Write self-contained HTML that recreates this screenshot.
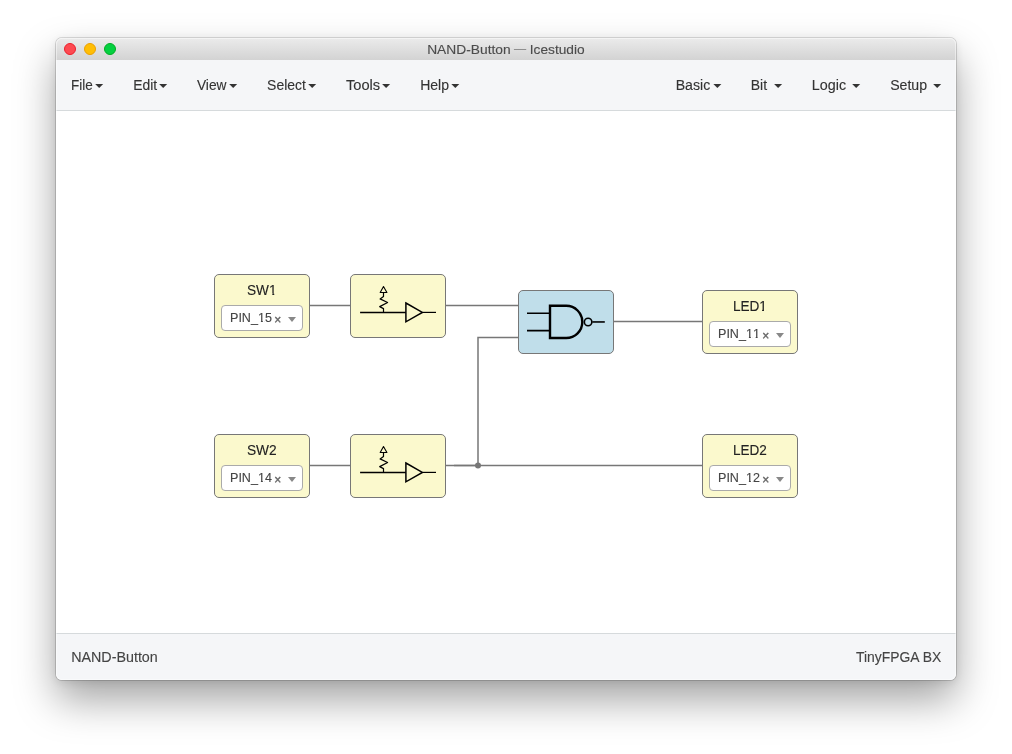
<!DOCTYPE html>
<html lang="en">
<head>
<meta charset="utf-8">
<title>NAND-Button — Icestudio</title>
<style>
*{box-sizing:border-box;margin:0;padding:0}
html,body{width:1012px;height:754px;overflow:hidden;background:#fff}
body{font-family:"Liberation Sans",Arial,Helvetica,sans-serif;color:#333;position:relative}
.window{position:absolute;left:56px;top:38px;width:900px;height:642px;border-radius:6px;background:#fff;
  box-shadow:0 0 0 1px rgba(0,0,0,.15),0 2px 9px rgba(0,0,0,.09),0 20px 40px rgba(0,0,0,.36)}
.topline{position:absolute;left:5px;top:-1px;width:890px;height:1px;background:rgba(255,255,255,.12)}
.hl{position:absolute;left:0;top:0;width:900px;height:642px;border-radius:6px;box-shadow:inset 0 0 0 1px rgba(255,255,255,.45);pointer-events:none;z-index:5}
.t{position:absolute;display:block;white-space:nowrap;will-change:transform}
.s{display:inline-block;transform-origin:0 50%;-webkit-text-stroke:.12px currentColor}
.titlebar{position:absolute;left:0;top:0;width:900px;height:22px;border-radius:6px 6px 0 0;
  background:linear-gradient(#ececec 0,#ececec 1px,#eaeaea 1px,#d3d3d3 22px)}
.titlebar .t{top:1px;height:22px;line-height:22px;font-size:13px;color:#4b4b4b}
.lights{position:absolute;left:0;top:0}
.menubar{position:absolute;left:0;top:22px;width:900px;height:51px;background:#f5f6f8;border-bottom:1px solid #d6dadc}
.menubar .t{top:0;height:50px;line-height:50px;font-size:14px;color:#333}
.caret{position:absolute;top:24px;width:0;height:0;border-top:4px solid #333;border-left:4px solid transparent;border-right:4px solid transparent}
.canvas{position:absolute;left:0;top:73px;width:900px;height:522px;background:#fff;overflow:hidden}
.footer{position:absolute;left:0;top:595px;width:900px;height:47px;background:#f5f6f8;border-top:1px solid #d6dadc;border-radius:0 0 6px 6px}
.footer .t{top:0;height:46px;line-height:46px;font-size:14px;color:#444}
.block{position:absolute;width:96px;height:64px;border:1px solid #777;border-radius:5px;background:#fbf9cd}
.block.gen{background:#c0deea}
.block .lab{top:6px;font-size:14px;line-height:18px;color:#222;font-kerning:none}
.sel{position:absolute;left:6px;top:30px;width:82px;height:26px;border:1px solid #aaa;border-radius:4px;background:#fff}
.sel .v{top:0;height:24px;line-height:24px;font-size:13px;color:#444;font-kerning:none}
.ft{position:absolute;height:2.2px;background:#fff}
.lab .ft{bottom:3.52px;background:#fbf9cd}
.v .ft{bottom:6.84px}
.sel .x{left:52px;top:1px;height:24px;line-height:24px;font-size:12px;color:#666}
.sel .x .s{-webkit-text-stroke:.4px currentColor}
.sel .a{position:absolute;left:66px;top:11px;width:0;height:0;border-top:5px solid #888;border-left:4px solid transparent;border-right:4px solid transparent}
svg{position:absolute;left:0;top:0;overflow:visible}
.block .icon{left:-1px;top:-1px}
</style>
</head>
<body>
<div class="window">
  <i class="topline"></i>
  <header class="titlebar">
    <svg class="lights" width="70" height="22" viewBox="0 0 70 22">
      <circle cx="14" cy="11" r="5.5" fill="#fd4a51" stroke="#ec1f2b" stroke-width="1"/>
      <circle cx="34" cy="11" r="5.5" fill="#ffbe04" stroke="#eca000" stroke-width="1"/>
      <circle cx="54" cy="11" r="5.5" fill="#04d040" stroke="#00ac22" stroke-width="1"/>
    </svg>
    <span class="t" style="left:371px;"><span class="s" style="transform:translate(0.16px,0px) scaleX(1.06)">NAND-Button</span></span>
    <span class="t" style="left:458px;top:0;color:#858585"><span class="s" style="transform:translate(0.0px,0px) scaleX(0.93)">—</span></span>
    <span class="t" style="left:473px;"><span class="s" style="transform:translate(0.78px,0px) scaleX(1.0549)">Icestudio</span></span>
  </header>
  <nav class="menubar">
    <span class="t" style="left:14px;"><span class="s" style="transform:translate(0.99px,0px) scaleX(0.964)">File</span></span><i class="caret" style="left:39px;transform:translateX(0.2px)"></i>
    <span class="t" style="left:77px;"><span class="s" style="transform:translate(0.13px,0px) scaleX(0.9927)">Edit</span></span><i class="caret" style="left:103px;transform:translateX(0.2px)"></i>
    <span class="t" style="left:140px;"><span class="s" style="transform:translate(0.94px,0px) scaleX(0.9827)">View</span></span><i class="caret" style="left:173px;transform:translateX(0.2px)"></i>
    <span class="t" style="left:211px;"><span class="s" style="transform:translate(0.1px,0px) scaleX(0.9949)">Select</span></span><i class="caret" style="left:252px;transform:translateX(0.2px)"></i>
    <span class="t" style="left:289px;"><span class="s" style="transform:translate(0.94px,0px) scaleX(1.045)">Tools</span></span><i class="caret" style="left:326px;transform:translateX(0.1px)"></i>
    <span class="t" style="left:364px;"><span class="s" style="transform:translate(0.17px,0px) scaleX(1.0029)">Help</span></span><i class="caret" style="left:395px;transform:translateX(0.3px)"></i>
    <span class="t" style="left:619px;"><span class="s" style="transform:translate(0.66px,0px) scaleX(1.0093)">Basic</span></span><i class="caret" style="left:657px;transform:translateX(0.4px)"></i>
    <span class="t" style="left:694px;"><span class="s" style="transform:translate(0.73px,0px) scaleX(1.002)">Bit</span></span><i class="caret" style="left:718px;transform:translateX(0.1px)"></i>
    <span class="t" style="left:755px;"><span class="s" style="transform:translate(0.84px,0px) scaleX(1.0244)">Logic</span></span><i class="caret" style="left:796px;transform:translateX(0.2px)"></i>
    <span class="t" style="left:834px;"><span class="s" style="transform:translate(0.13px,0px) scaleX(1.0087)">Setup</span></span><i class="caret" style="left:877px;transform:translateX(0.2px)"></i>
  </nav>
  <main class="canvas">
    <svg width="900" height="522" viewBox="0 0 900 522" fill="none" stroke="#777" stroke-width="1.5">
      <path d="M254 194.5H294"/>
      <path d="M390 194.5H462"/>
      <path d="M254 354.5H294"/>
      <path d="M390 354.5H646"/>
      <path d="M398 354.5H422V226.5H462"/>
      <path d="M558 210.5H646"/>
      <path d="M398 354.5H422" stroke-width="1"/>
      <circle cx="422" cy="354.5" r="3" fill="#777" stroke="none"/>
    </svg>
    <div class="block" style="left:158px;top:163px"><span class="t lab" style="left:31px;"><span class="s" style="transform:translate(0.95px,0px) scaleX(0.975)">SW1<i class="ft" style="left:1.591em;width:.242em"></i><i class="ft" style="left:1.981em;width:.21em"></i></span></span><div class="sel"><span class="t v" style="left:8px;"><span class="s" style="transform:translate(0.0px,0px) scaleX(0.966)">PIN_15<i class="ft" style="left:2.203em;width:.242em"></i><i class="ft" style="left:2.593em;width:.21em"></i></span></span><span class="t x"><span class="s" style="transform:translate(0.35px,0.5px) scaleX(.9999)">×</span></span><i class="a"></i></div></div>
    <div class="block" style="left:158px;top:323px"><span class="t lab" style="left:31px;"><span class="s" style="transform:translate(0.95px,0px) scaleX(0.98)">SW2</span></span><div class="sel"><span class="t v" style="left:8px;"><span class="s" style="transform:translate(0.0px,0px) scaleX(0.966)">PIN_14<i class="ft" style="left:2.203em;width:.242em"></i><i class="ft" style="left:2.593em;width:.21em"></i></span></span><span class="t x"><span class="s" style="transform:translate(0.35px,0.5px) scaleX(.9999)">×</span></span><i class="a"></i></div></div>
    <div class="block" style="left:646px;top:179px"><span class="t lab" style="left:29px;"><span class="s" style="transform:translate(0.9px,0px) scaleX(0.972)">LED1<i class="ft" style="left:1.925em;width:.242em"></i><i class="ft" style="left:2.315em;width:.21em"></i></span></span><div class="sel"><span class="t v" style="left:8px;"><span class="s" style="transform:translate(0.0px,0px) scaleX(0.966)">PIN_11<i class="ft" style="left:2.203em;width:.242em"></i><i class="ft" style="left:2.593em;width:.21em"></i><i class="ft" style="left:2.759em;width:.242em"></i><i class="ft" style="left:3.149em;width:.21em"></i></span></span><span class="t x"><span class="s" style="transform:translate(0.35px,0.5px) scaleX(.9999)">×</span></span><i class="a"></i></div></div>
    <div class="block" style="left:646px;top:323px"><span class="t lab" style="left:29px;"><span class="s" style="transform:translate(0.9px,0px) scaleX(0.968)">LED2</span></span><div class="sel"><span class="t v" style="left:8px;"><span class="s" style="transform:translate(0.0px,0px) scaleX(0.966)">PIN_12<i class="ft" style="left:2.203em;width:.242em"></i><i class="ft" style="left:2.593em;width:.21em"></i></span></span><span class="t x"><span class="s" style="transform:translate(0.35px,0.5px) scaleX(.9999)">×</span></span><i class="a"></i></div></div>
    <div class="block" style="left:294px;top:163px"><svg class="icon" width="96" height="64" viewBox="0 0 96 64" fill="none" stroke="#000">
      <path d="M10.1 38.4H55.9" stroke-width="1.5"/>
      <path d="M55.9 29L72.4 38.4L55.9 47.8Z" stroke-width="1.5"/>
      <path d="M72.4 38.4H86" stroke-width="1.2"/>
      <path d="M33.5 38.4V34.6L29.7 32.6L37.6 28.5L30.1 24.9L33.5 22.4V18.6" stroke-width="1.2" stroke-linejoin="round"/>
      <path d="M30.2 18.5H36.9L33.5 12.5Z" stroke-width="1.1" stroke-linejoin="round"/>
    </svg></div>
    <div class="block" style="left:294px;top:323px"><svg class="icon" width="96" height="64" viewBox="0 0 96 64" fill="none" stroke="#000">
      <path d="M10.1 38.4H55.9" stroke-width="1.5"/>
      <path d="M55.9 29L72.4 38.4L55.9 47.8Z" stroke-width="1.5"/>
      <path d="M72.4 38.4H86" stroke-width="1.2"/>
      <path d="M33.5 38.4V34.6L29.7 32.6L37.6 28.5L30.1 24.9L33.5 22.4V18.6" stroke-width="1.2" stroke-linejoin="round"/>
      <path d="M30.2 18.5H36.9L33.5 12.5Z" stroke-width="1.1" stroke-linejoin="round"/>
    </svg></div>
    <div class="block gen" style="left:462px;top:179px"><svg class="icon" width="96" height="64" viewBox="0 0 96 64" fill="none" stroke="#000">
      <path d="M32 15.8H48.2A16.1 16.1 0 0 1 48.2 48H32Z" stroke-width="2.4"/>
      <path d="M9 23.3H31M9 40.6H31" stroke-width="1.6"/>
      <circle cx="70.1" cy="31.95" r="3.75" stroke-width="1.6"/>
      <path d="M74.3 31.95H86.8" stroke-width="1.6"/>
    </svg></div>
  </main>
  <footer class="footer"><span class="t" style="left:15px;"><span class="s" style="transform:translate(0.13px,0px) scaleX(1.0215)">NAND-Button</span></span><span class="t" style="left:800px;"><span class="s" style="transform:translate(0.07px,0px) scaleX(0.992)">TinyFPGA BX</span></span></footer>
  <i class="hl"></i>
</div>
</body>
</html>
